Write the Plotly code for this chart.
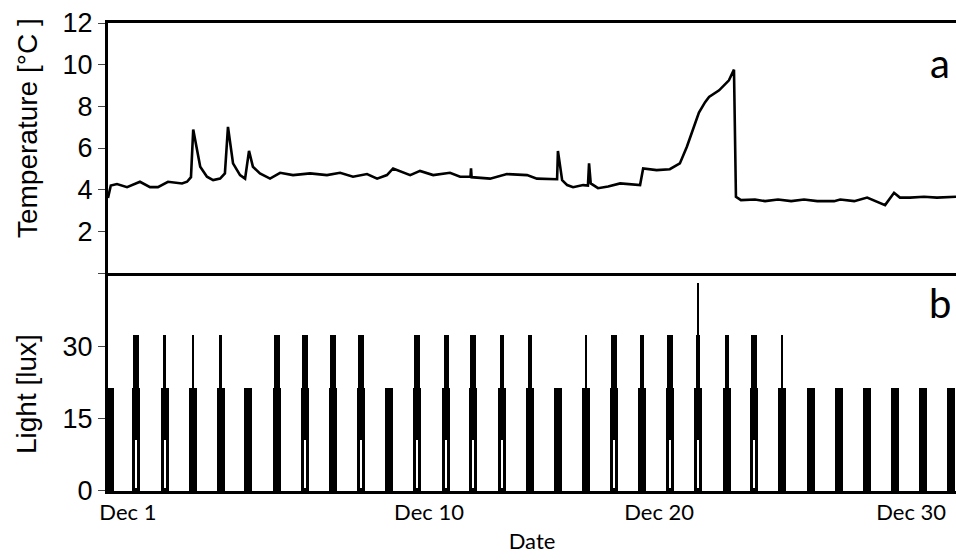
import plotly.graph_objects as go

# ---------------- data ----------------
# Temperature: time in days since start of Dec 1, value in °C
temp_time = [0.00, 0.10, 0.32, 0.68, 1.14, 1.50, 1.78, 2.14, 2.64, 2.82, 2.96, 3.04, 3.29, 3.53, 3.75,
             4.00, 4.17, 4.28, 4.46, 4.71, 4.89, 5.03, 5.17, 5.42, 5.78, 6.14, 6.60, 7.21, 7.81, 8.28,
             8.74, 9.24, 9.60, 9.95, 10.17, 10.42, 10.78, 11.13, 11.60, 12.20, 12.56, 12.93, 12.95,
             12.97, 13.16, 13.63, 14.23, 14.95, 15.30, 16.02, 16.05, 16.20, 16.38, 16.59, 16.95,
             17.12, 17.16, 17.22, 17.48, 17.84, 18.27, 18.52, 18.98, 19.09, 19.57, 20.04, 20.40,
             20.65, 20.87, 21.08, 21.30, 21.44, 21.80, 22.15, 22.33, 22.40, 22.58, 23.08, 23.44,
             23.90, 24.37, 24.83, 25.30, 25.90, 26.12, 26.62, 27.08, 27.44, 27.72, 28.04, 28.25,
             28.61, 29.11, 29.57, 30.25]
temp_value = [3.6, 4.2, 4.27, 4.12, 4.38, 4.12, 4.12, 4.38, 4.30, 4.38, 4.6, 6.89, 5.1, 4.62, 4.46,
              4.53, 4.78, 7.01, 5.26, 4.70, 4.53, 5.86, 5.1, 4.78, 4.53, 4.81, 4.70, 4.78, 4.70, 4.81,
              4.62, 4.75, 4.53, 4.70, 5.02, 4.9, 4.70, 4.9, 4.70, 4.81, 4.62, 4.62, 5.02,
              4.6, 4.58, 4.53, 4.75, 4.70, 4.53, 4.50, 5.86, 4.46, 4.22, 4.12, 4.22,
              4.2, 5.26, 4.3, 4.07, 4.15, 4.30, 4.27, 4.22, 5.02, 4.94, 4.98, 5.26,
              6.06, 6.86, 7.7, 8.2, 8.45, 8.77, 9.25, 9.76, 3.66, 3.50, 3.53, 3.45,
              3.53, 3.45, 3.53, 3.45, 3.45, 3.53, 3.45, 3.62, 3.42, 3.26, 3.85, 3.62,
              3.62, 3.66, 3.62, 3.66]

# Light: one lit period per day (time in days), with peak level in lux
light_time = [0.07, 1.00, 2.03, 3.03, 4.03, 4.99, 6.03, 7.03, 8.03, 9.03, 10.02, 11.02, 12.06, 13.02,
              14.06, 15.06, 16.05, 17.05, 18.05, 19.05, 20.05, 21.05, 22.08, 23.05, 24.05, 25.08,
              26.08, 27.08, 28.08, 29.08, 30.07]
light_peak = [21.5, 32.4, 32.4, 32.4, 32.4, 21.5, 32.4, 32.4, 32.4, 32.4, 21.5, 32.4, 32.4, 32.4,
              32.4, 32.4, 21.5, 32.4, 32.4, 32.4, 32.4, 32.4, 32.4, 32.4, 32.4, 21.5,
              21.5, 21.5, 21.5, 21.5, 21.5]
light_low = [10.6] * 31          # lower flicker level (lux)
light_mid = [21.5] * 31          # middle level (lux)
# duration (days) of the brightest phase of each day
light_top_dur = [0, 0.214, 0.071, 0.071, 0.071, 0, 0.214, 0.214, 0.214, 0.214, 0, 0.214, 0.18, 0.214,
                 0.143, 0.143, 0, 0.09, 0.214, 0.143, 0.214, 0.143, 0.143, 0.214, 0.071, 0,
                 0, 0, 0, 0, 0]
# days where the low level flickered (off gap in the lower part)
light_gap = [0, 1, 1, 0, 0, 0, 0, 1, 0, 1, 0, 1, 1, 1, 1, 0, 0, 0, 1, 0, 1, 1, 0, 1, 0, 0,
             0, 0, 0, 0, 0]
spike_time = [21.05]
spike_value = [43.3]

x_tick_vals = [0.71, 11.45, 19.66, 28.65]
x_tick_text = ["Dec 1", "Dec 10", "Dec 20", "Dec 30"]

# ---------------- figure ----------------
day_dur = 0.29  # width of each lit period

fig = go.Figure()

fig.add_trace(go.Scatter(x=temp_time, y=temp_value, mode="lines",
                         line=dict(color="black", width=2.6), xaxis="x", yaxis="y",
                         showlegend=False, hoverinfo="skip"))

fig.add_trace(go.Bar(x=light_time, y=light_low, base=[0] * 31, width=[day_dur] * 31,
                     marker=dict(color="black", line=dict(width=0)), xaxis="x2", yaxis="y2",
                     showlegend=False))
fig.add_trace(go.Bar(x=light_time, y=[m - l for m, l in zip(light_mid, light_low)], base=light_low,
                     width=[day_dur] * 31, marker=dict(color="black", line=dict(width=0)),
                     xaxis="x2", yaxis="y2", showlegend=False))
top_x = [t for t, p in zip(light_time, light_peak) if p > 21.5]
top_h = [p - m for p, m in zip(light_peak, light_mid) if p > 21.5]
top_w = [w for w, p in zip(light_top_dur, light_peak) if p > 21.5]
fig.add_trace(go.Bar(x=top_x, y=top_h, base=[21.5] * len(top_x), width=top_w,
                     marker=dict(color="black", line=dict(width=0)), xaxis="x2", yaxis="y2",
                     showlegend=False))
gap_x = [t for t, g in zip(light_time, light_gap) if g]
gap_y = [l for l, g in zip(light_low, light_gap) if g]
fig.add_trace(go.Bar(x=gap_x, y=[v - 0.6 for v in gap_y], base=[0.6] * len(gap_x),
                     width=[0.075] * len(gap_x), marker=dict(color="white", line=dict(width=0)),
                     xaxis="x2", yaxis="y2", showlegend=False))
fig.add_trace(go.Bar(x=spike_time, y=[spike_value[0] - 32.4], base=[32.4], width=[0.05],
                     marker=dict(color="black", line=dict(width=0)), xaxis="x2", yaxis="y2",
                     showlegend=False))

split = 0.4658
xr = [0, 30.25]
axis_font = dict(family="Liberation Sans, Arial", size=27, color="black")
title_font = dict(family="Liberation Sans, Arial", size=28, color="black")
cal_font = "Lato, Carlito, sans-serif"

fig.update_layout(
    width=956, height=560,
    margin=dict(l=108, r=0, t=23, b=69, autoexpand=False),
    paper_bgcolor="white", plot_bgcolor="white",
    barmode="overlay", bargap=0,
    xaxis=dict(domain=[0, 1], anchor="y", range=xr, showticklabels=False, ticks="",
               showgrid=False, zeroline=False, showline=True, linecolor="black", linewidth=3,
               mirror=True, automargin=False),
    yaxis=dict(domain=[split, 1], anchor="x", range=[0, 12], tickvals=[0, 2, 4, 6, 8, 10, 12],
               ticktext=["", "2", "4", "6", "8", "10", "12"], ticks="outside", ticklen=7,
               tickcolor="#444", tickwidth=1, tickfont=axis_font, showgrid=False, zeroline=False,
               showline=True, linecolor="black", linewidth=3, automargin=False),
    xaxis2=dict(domain=[0, 1], anchor="y2", matches="x", range=xr, tickvals=x_tick_vals,
                ticktext=x_tick_text, ticks="", showgrid=False, zeroline=False, showline=True,
                linecolor="black", linewidth=3, automargin=False,
                tickfont=dict(family=cal_font, size=22, color="black"),
                title=dict(text="Date", font=dict(family=cal_font, size=22, color="black"),
                           standoff=10)),
    yaxis2=dict(domain=[0, split], anchor="x2", range=[0, 45.3], tickvals=[0, 15, 30],
                ticks="outside", ticklen=7, tickcolor="#444", tickwidth=1, tickfont=axis_font,
                showgrid=False, zeroline=False, showline=True, linecolor="black", linewidth=3,
                automargin=False),
    annotations=[
        dict(text="Temperature [°C ]", x=-0.0955, y=0.7756, xref="paper", yref="paper",
             showarrow=False, textangle=-90, xanchor="center", yanchor="middle",
             font=title_font),
        dict(text="Light [lux]", x=-0.0955, y=0.2073, xref="paper", yref="paper",
             showarrow=False, textangle=-90, xanchor="center", yanchor="middle",
             font=title_font),
        dict(text="a", x=0.981, y=0.9145, xref="paper", yref="paper", showarrow=False,
             xanchor="center", yanchor="middle",
             font=dict(family=cal_font, size=40, color="black")),
        dict(text="b", x=0.981, y=0.4017, xref="paper", yref="paper", showarrow=False,
             xanchor="center", yanchor="middle",
             font=dict(family=cal_font, size=40, color="black")),
    ],
)

fig.write_html("out.html", config={"displayModeBar": False},
               post_script="document.body.style.margin='0';document.body.style.overflow='hidden';")
